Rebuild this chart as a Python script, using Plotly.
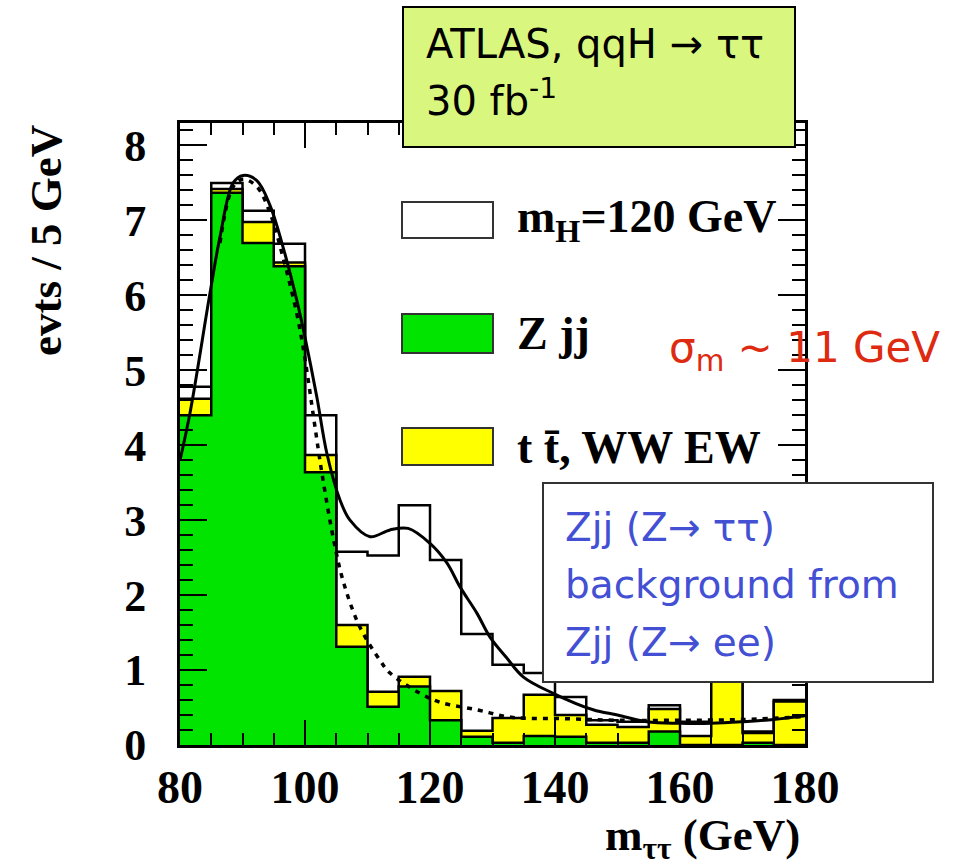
import plotly.graph_objects as go

# ---- binned m_tautau distribution, 5 GeV bins from 80 to 180 GeV ----
bin_edges = [80, 85, 90, 95, 100, 105, 110, 115, 120, 125, 130,
             135, 140, 145, 150, 155, 160, 165, 170, 175, 180]
zjj = [4.40, 7.37, 6.70, 6.39, 3.64, 1.31, 0.51, 0.78, 0.33, 0.11,
       0.03, 0.12, 0.11, 0.03, 0.03, 0.18, 0.00, 0.00, 0.03, 0.00]
ttbar_ww = [0.22, 0.05, 0.28, 0.05, 0.23, 0.29, 0.20, 0.13, 0.39, 0.08,
            0.33, 0.55, 0.29, 0.24, 0.21, 0.30, 0.12, 0.95, 0.13, 0.58]
signal_120 = [0.16, 0.08, 0.15, 0.25, 0.53, 0.98, 1.82, 2.29, 1.75, 1.29,
              0.71, 0.29, 0.24, 0.06, 0.07, 0.05, 0.19, 0.00, 0.02, 0.02]

# fitted signal + background curve
fit_total_x = [80, 81.6, 84.8, 86.4, 88.5, 90.1, 92.3, 94.4, 96.5, 98.7, 100,
               101.9, 103.5, 105.6, 107.2, 110.4, 113.6, 116.5, 120, 122.7,
               124.8, 127.5, 129.6, 132.2, 134.9, 139.7, 146.1, 150, 154.7,
               160, 165, 170, 175, 180]
fit_total_y = [3.8, 4.43, 6.03, 6.78, 7.5, 7.6, 7.53, 7.2, 6.64, 5.93, 5.44,
               4.64, 3.89, 3.27, 3.0, 2.78, 2.87, 2.89, 2.69, 2.43,
               2.11, 1.76, 1.44, 1.17, 0.91, 0.69, 0.47, 0.40, 0.31,
               0.29, 0.29, 0.31, 0.34, 0.39]
# fitted background-only curve
fit_bkg_x = [86.4, 88.5, 90.1, 92.3, 94.4, 96.5, 98.7, 100, 101.5, 102.7,
             104.6, 106.2, 108.8, 112, 113.6, 118.4, 121.6, 127.5, 133, 142,
             150, 160, 170, 180]
fit_bkg_y = [6.7, 7.45, 7.55, 7.45, 7.1, 6.5, 5.75, 5.15, 4.3, 3.63,
             2.73, 2.16, 1.57, 1.13, 0.96, 0.69, 0.57, 0.47, 0.37, 0.35,
             0.33, 0.33, 0.34, 0.38]

x_ticks = [80, 100, 120, 140, 160, 180]
y_ticks = [0, 1, 2, 3, 4, 5, 6, 7, 8]

GREEN = "#00E400"
YELLOW = "#FFFF00"
SERIF = "Liberation Serif"
HAND = "DejaVu Sans"

# stacked cumulative heights
stack_green = list(zjj)
stack_yellow = [g + y for g, y in zip(zjj, ttbar_ww)]
stack_total = [s + h for s, h in zip(stack_yellow, signal_120)]


def step(values):
    return values + [values[-1]]


fig = go.Figure()
for vals, color in [(stack_total, "white"), (stack_yellow, YELLOW), (stack_green, GREEN)]:
    fig.add_trace(go.Scatter(
        x=bin_edges, y=step(vals), mode="lines", line_shape="hv",
        line=dict(color="black", width=2.5),
        fill="tozeroy", fillcolor=color, hoverinfo="skip"))

fig.add_trace(go.Scatter(x=fit_bkg_x, y=fit_bkg_y, mode="lines",
                         line=dict(color="black", width=3.5, dash="5px,6px", shape="spline")))
fig.add_trace(go.Scatter(x=fit_total_x, y=fit_total_y, mode="lines",
                         line=dict(color="black", width=3, shape="spline")))

# plot frame in pixels
L, R, T, B = 180, 805, 123, 745


def px(x):
    return (x - L) / (R - L)


def py(y):
    return (B - y) / (B - T)


shapes = []
annotations = []

# legend swatches and labels
legend_rows = [
    (202, 238, "white", "m<sub>H</sub>=120 GeV", 220),
    (314, 353, GREEN, "Z jj", 333),
    (428, 465, YELLOW, "t t\u0304, WW EW", 447),
]
for y0, y1, fc, label, yc in legend_rows:
    shapes.append(dict(type="rect", xref="paper", yref="paper",
                       x0=px(402), x1=px(493), y0=py(y1), y1=py(y0),
                       fillcolor=fc, line=dict(color="#333333", width=2), layer="above"))
    annotations.append(dict(xref="paper", yref="paper", x=px(515), y=py(yc),
                            xanchor="left", yanchor="middle", showarrow=False,
                            text=label, font=dict(family=SERIF, size=46, color="black", weight="bold")))

# title box
shapes.append(dict(type="rect", xref="paper", yref="paper",
                   x0=px(403), x1=px(795), y0=py(147), y1=py(7),
                   fillcolor="#D9F77F", line=dict(color="black", width=2), layer="above"))
annotations.append(dict(xref="paper", yref="paper", x=px(424), y=py(44),
                        xanchor="left", yanchor="middle", showarrow=False,
                        text="ATLAS, qqH \u2192 \u03c4\u03c4",
                        font=dict(family=HAND, size=40, color="black")))
annotations.append(dict(xref="paper", yref="paper", x=px(424), y=py(98),
                        xanchor="left", yanchor="middle", showarrow=False,
                        text="30 fb<sup>-1</sup>",
                        font=dict(family=HAND, size=40, color="black")))

# background-method box
shapes.append(dict(type="rect", xref="paper", yref="paper",
                   x0=px(543), x1=px(933), y0=py(682), y1=py(483),
                   fillcolor="white", line=dict(color="#333333", width=2), layer="above"))
for txt, yc in [("Zjj (Z\u2192 \u03c4\u03c4)", 527),
                ("background from", 584),
                ("Zjj (Z\u2192 ee)", 642)]:
    annotations.append(dict(xref="paper", yref="paper", x=px(563), y=py(yc),
                            xanchor="left", yanchor="middle", showarrow=False,
                            text=txt, font=dict(family=HAND, size=39, color="#4450D4")))

# mass resolution note
annotations.append(dict(xref="paper", yref="paper", x=px(667), y=py(350),
                        xanchor="left", yanchor="middle", showarrow=False,
                        text="\u03c3<sub>m</sub> ~ 11 GeV",
                        font=dict(family=HAND, size=42, color="#DD2A10")))

# axis titles
annotations.append(dict(xref="paper", yref="paper", x=px(46), y=py(241),
                        xanchor="center", yanchor="middle", showarrow=False, textangle=-90,
                        text="evts / 5 GeV",
                        font=dict(family=SERIF, size=45, color="black", weight="bold")))
annotations.append(dict(xref="paper", yref="paper", x=px(802), y=py(838),
                        xanchor="right", yanchor="middle", showarrow=False,
                        text="m<sub>\u03c4\u03c4</sub> (GeV)",
                        font=dict(family=SERIF, size=45, color="black", weight="bold")))

fig.update_xaxes(range=[80, 180], tickvals=x_ticks, ticks="inside", ticklen=25, tickwidth=2,
                 tickcolor="black", showline=True, linewidth=3, linecolor="black",
                 mirror="allticks", showgrid=False, zeroline=False,
                 tickfont=dict(family=SERIF, size=46, color="black", weight="bold"),
                 ticklabelstandoff=0,
                 minor=dict(dtick=5, ticks="inside", ticklen=12, tickwidth=2,
                            tickcolor="black", showgrid=False))
fig.update_yaxes(range=[0, 8.3], tickvals=y_ticks, ticks="inside", ticklen=27, tickwidth=2,
                 tickcolor="black", showline=True, linewidth=3, linecolor="black",
                 mirror="allticks", showgrid=False, zeroline=False,
                 tickfont=dict(family=SERIF, size=44, color="black", weight="bold"),
                 ticklabelstandoff=22,
                 minor=dict(dtick=0.2, ticks="inside", ticklen=13, tickwidth=2,
                            tickcolor="black", showgrid=False))

fig.update_layout(width=967, height=868, showlegend=False,
                  margin=dict(l=L, r=967 - R, t=T, b=868 - B),
                  plot_bgcolor="white", paper_bgcolor="white",
                  shapes=shapes, annotations=annotations)

fig.write_html("out.html")
